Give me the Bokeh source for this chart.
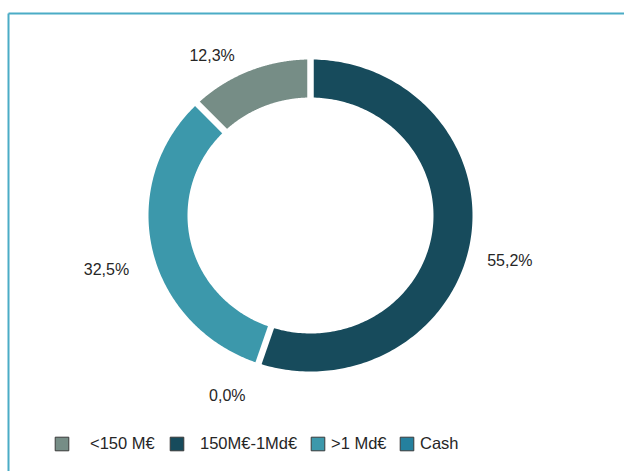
import numpy as np
from bokeh.plotting import figure
from bokeh.models import Range1d, Legend, LegendItem, ColumnDataSource
from bokeh.core.properties import value
from bokeh.embed import file_html
from bokeh.resources import INLINE

# ---- data ----
categories = ["<150 M€", "150M€-1Md€", ">1 Md€", "Cash"]
shares = [12.3, 55.2, 32.5, 0.0]
label_texts = ["12,3%", "55,2%", "32,5%", "0,0%"]
colors = ["#768D86", "#174B5C", "#3C98AB", "#25809E"]
ring_order = [1, 3, 2, 0]  # clockwise from 12 o'clock

# ---- layout ----
W, H = 624, 471
CX, CY = 310, 215
RX_OUT, RY_OUT = 162, 156
RX_IN, RY_IN = 123, 118
RX_LAB, RY_LAB = 200, 190
FONT = "Liberation Sans"
TEXT_COLOR = "#262626"

p = figure(width=W, height=H, x_range=Range1d(0, W), y_range=Range1d(H, 0),
           output_backend="svg", toolbar_location=None, min_border=0,
           x_axis_location=None, y_axis_location=None)
p.grid.visible = False
p.outline_line_color = None
p.background_fill_color = "white"
p.border_fill_color = "white"

# ring slices
xs, ys, fills = [], [], []
bounds = []
mids = {}
start = 0.0
for i in ring_order:
    a0 = start
    a1 = start + shares[i] / 100.0 * 2 * np.pi
    t = np.linspace(a0, a1, 200)
    xo = CX + RX_OUT * np.sin(t)
    yo = CY - RY_OUT * np.cos(t)
    xi = CX + RX_IN * np.sin(t[::-1])
    yi = CY - RY_IN * np.cos(t[::-1])
    xs.append(list(np.concatenate([xo, xi])))
    ys.append(list(np.concatenate([yo, yi])))
    fills.append(colors[i])
    mids[i] = (a0 + a1) / 2
    bounds.append(a1)
    start = a1

p.patches(xs="xs", ys="ys", fill_color="fc", line_color=None,
          source=ColumnDataSource(dict(xs=xs, ys=ys, fc=fills)))

# white separators at slice boundaries
ba = np.unique(np.round(np.array(bounds) % (2 * np.pi), 9))
p.segment(x0=CX + (RX_IN - 4) * np.sin(ba), y0=CY - (RY_IN - 4) * np.cos(ba),
          x1=CX + (RX_OUT + 4) * np.sin(ba), y1=CY - (RY_OUT + 4) * np.cos(ba),
          line_color="white", line_width=6.5)

# data labels
label_dx = [-23, 2, -9, -19]
label_dy = [16, 14, 12, 0]
lx = [CX + RX_LAB * np.sin(mids[i]) for i in range(4)]
ly = [CY - RY_LAB * np.cos(mids[i]) for i in range(4)]
p.text(x=lx, y=ly, text=label_texts, x_offset=label_dx, y_offset=label_dy,
       text_align="center", text_baseline="middle",
       text_font=value(FONT), text_font_size="16px", text_color=TEXT_COLOR)

# frame lines (top and left)
p.line(x=[8, W], y=[13, 13], line_color="#4BACC6", line_width=2)
p.line(x=[8, 8], y=[13, H], line_color="#4BACC6", line_width=2)

# legend: one Legend per entry to reproduce spacing
leg_x = [53, 168, 309, 398]
leg_standoff = [20, 15, 5, 5]
for i in range(4):
    r = p.quad(left=[np.nan], right=[np.nan], top=[np.nan], bottom=[np.nan],
               fill_color=colors[i], line_color="#3A3A3A", line_width=1)
    leg = Legend(items=[LegendItem(label=categories[i], renderers=[r])],
                 location=(leg_x[i], 18), orientation="horizontal",
                 glyph_width=17, glyph_height=17, label_standoff=leg_standoff[i],
                 label_height=17, padding=0, margin=0, spacing=0,
                 border_line_color=None, background_fill_alpha=0,
                 label_text_font=FONT, label_text_font_size="16.5px",
                 label_text_color=TEXT_COLOR)
    p.add_layout(leg)

open("out.html", "w").write(file_html(p, INLINE))
